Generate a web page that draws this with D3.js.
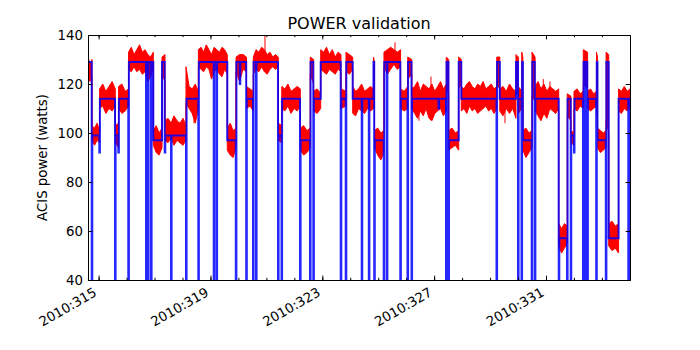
<!DOCTYPE html>
<html>
<head>
<meta charset="utf-8">
<script src="https://cdn.jsdelivr.net/npm/d3@7"></script>
<style>
  body { margin: 0; background: #fff; }
  text { font-family: 'DejaVu Sans', sans-serif; }
</style>
</head>
<body>
<svg></svg>
<script>
// Data: model (blue step) in day-of-year 2010, power in watts
const modelTime = [314.620, 314.752, 314.774, 315.024, 315.046, 315.586, 315.607, 315.704, 315.725, 316.061,
  316.083, 316.694, 316.716, 316.766, 316.787, 316.873, 316.895, 316.956, 317.267, 317.363,
  317.385, 317.589, 317.610, 318.125, 318.146, 318.565, 318.586, 319.116, 319.137, 319.216,
  319.237, 319.602, 319.906, 319.928, 320.046, 320.067, 320.278, 320.300, 320.521, 320.543,
  320.629, 320.650, 321.415, 321.437, 321.541, 321.562, 322.202, 322.224, 322.560, 322.581,
  322.678, 322.699, 322.943, 323.658, 323.679, 323.837, 323.858, 324.087, 324.409, 324.430,
  324.663, 324.684, 324.831, 324.856, 324.877, 325.196, 325.217, 325.307, 325.328, 325.789,
  325.811, 326.047, 326.068, 326.190, 326.211, 327.156, 327.177, 327.424, 327.445, 327.510,
  327.531, 327.878, 327.971, 329.230, 329.251, 329.348, 329.927, 329.999, 330.020, 330.124,
  330.146, 330.174, 330.489, 330.510, 330.600, 330.621, 331.455, 331.476, 331.751, 331.773,
  331.884, 331.905, 332.002, 332.020, 332.324, 332.345, 332.406, 332.427, 332.477, 332.499,
  332.796, 332.817, 332.842, 333.139, 333.161, 333.243, 333.597, 333.944, 333.969, 334.005]
const modelPower = [129, 0, 99, 92, 114, 0, 99, 92, 114, 0,
  129, 0, 129, 0, 129, 0, 129, 97, 129, 92,
  99, 0, 99, 0, 114, 0, 129, 0, 129, 0,
  129, 97, 0, 129, 120, 129, 0, 114, 0, 129,
  0, 129, 0, 99, 0, 114, 0, 97, 0, 129,
  0, 114, 129, 0, 114, 0, 129, 114, 0, 114,
  0, 114, 129, 0, 97, 0, 129, 0, 129, 0,
  114, 0, 129, 0, 114, 110, 114, 0, 129, 0,
  97, 129, 114, 0, 129, 114, 129, 0, 114, 0,
  129, 97, 0, 129, 0, 114, 0, 57, 0, 114,
  0, 99, 92, 114, 0, 129, 0, 129, 0, 114,
  0, 129, 97, 0, 129, 57, 114, 0, 114, 114]

// Measured power (red): segment breaks and high / low envelope samples per segment
const redBreaks = [314.620, 314.763, 315.035, 315.596, 315.714, 316.070, 316.956, 317.267, 317.374, 318.125,
  318.568, 319.602, 319.915, 320.289, 320.532, 321.426, 321.550, 322.213, 322.570, 322.688,
  322.943, 323.668, 323.847, 324.087, 324.831, 324.866, 325.206, 325.800, 326.057, 326.200,
  327.434, 327.520, 327.878, 327.971, 329.240, 329.348, 329.927, 330.010, 330.135, 330.174,
  330.500, 330.610, 331.455, 331.762, 331.894, 332.002, 332.335, 332.488, 332.806, 332.842,
  333.150, 333.243, 333.597, 334.005]
const redHi = [
  [131, 128, 130], [103, 102, 104, 101], [118, 120, 117, 119, 121, 118], [103, 104],
  [119, 120, 117, 118], [133, 135, 132, 134, 136, 133, 134, 132, 131, 133], [101, 103, 100, 102],
  [131, 132], [105, 106, 104, 107, 105, 104, 106, 103], [127, 119, 118, 120, 117],
  [134, 135, 133, 136, 134, 132, 135, 134, 133, 135, 134, 132], [102, 104, 101, 102],
  [131, 132, 132, 131], [119, 118, 117], [131, 134, 133, 135, 134, 132, 133, 131, 132, 131],
  [104, 103], [119, 118, 120, 117, 118, 119, 118], [102, 103, 101, 102], [131, 130],
  [117, 118, 116], [134, 133, 135, 132, 134, 131, 133, 132], [118, 117], [133, 132, 131],
  [119, 117, 118, 120, 117, 118, 119, 118], [131, 129], [101, 102, 100, 101],
  [133, 134, 135, 134, 133, 134], [118, 117, 119], [131, 130],
  [118, 119, 121, 117, 120, 119, 118, 120, 117, 119, 121, 118, 120], [131, 130],
  [101, 102, 100, 101], [131, 130],
  [119, 118, 120, 121, 119, 118, 120, 119, 121, 118, 119, 120, 118, 119], [131, 131],
  [118, 119, 117, 120, 118, 117], [132, 131], [119, 117], [133, 131], [101, 102, 100, 101],
  [133, 131], [119, 121, 118, 120, 117, 119, 118, 117, 118], [63, 61, 63, 62], [116, 115],
  [101, 100], [117, 118, 116, 117], [134, 133], [117, 118, 116, 117], [133, 131],
  [102, 101, 100, 101], [133, 132], [63, 64, 62, 63], [118, 117, 119, 117, 118]]
const redLo = [
  [124, 121, 123], [97, 95, 97, 96], [110, 111, 108, 110, 109, 111], [96, 94],
  [110, 108, 109, 111], [126, 125, 127, 125, 126, 124, 125, 121, 123, 126], [95, 92, 91, 94],
  [124, 121], [97, 96, 98, 95, 97, 96, 95, 97], [112, 110, 108, 104, 110],
  [127, 126, 125, 127, 126, 122, 125, 126, 124, 123, 126, 124], [93, 91, 90, 94],
  [125, 121, 126, 125], [110, 111, 109], [124, 126, 125, 127, 125, 124, 126, 127, 126, 127],
  [97, 96], [110, 109, 111, 108, 110, 109, 111], [93, 91, 92, 94], [124, 120],
  [109, 108, 110], [126, 125, 124, 126, 125, 124, 126, 125], [110, 111], [125, 124, 126],
  [108, 107, 110, 109, 108, 110, 109, 110], [113, 111], [94, 91, 89, 92],
  [127, 124, 126, 128, 126, 127], [110, 109, 110], [122, 124],
  [110, 108, 106, 109, 107, 110, 106, 105, 108, 109, 110, 107, 109], [118, 116],
  [93, 94, 95, 93], [118, 120],
  [109, 110, 108, 111, 109, 110, 108, 109, 110, 111, 109, 110, 108, 110], [120, 118],
  [109, 107, 110, 108, 110, 106], [115, 117], [108, 110], [114, 112], [93, 90, 92, 94],
  [115, 113], [109, 107, 105, 108, 106, 110, 109, 108, 110], [54, 51, 53, 55], [107, 105],
  [96, 95], [110, 109, 111, 110], [120, 118], [110, 109, 110, 111], [110, 105],
  [94, 92, 93, 94], [105, 100], [54, 52, 53, 51], [109, 108, 110, 109, 110]]

// Single-sample glitches in the measured power
const spikeTime = [318.411, 320.950, 325.600, 326.458, 326.887, 329.534, 330.904, 331.143]
const spikeBase = [112, 128, 130, 110, 116, 110, 116, 116]
const spikeTop = [104, 140, 137, 105, 123, 104, 122, 121]

const yTicks = [40, 60, 80, 100, 120, 140]
const xMajor = [315, 319, 323, 327, 331]
const xMinor = d3.range(315, 334)

// Layout
const width = 700
const height = 350
const plot = { left: 88, right: 630, top: 35, bottom: 280 }

const svg = d3.select('svg').attr('width', width).attr('height', height)
svg.append('rect').attr('width', width).attr('height', height).attr('fill', '#fff')

const x = d3.scaleLinear().domain([314.62, 334.005]).range([plot.left, plot.right])
const y = d3.scaleLinear().domain([40, 140]).range([plot.bottom, plot.top])

svg
  .append('defs')
  .append('clipPath')
  .attr('id', 'plot-clip')
  .append('rect')
  .attr('x', plot.left)
  .attr('y', plot.top)
  .attr('width', plot.right - plot.left)
  .attr('height', plot.bottom - plot.top)

const layer = svg.append('g').attr('clip-path', 'url(#plot-clip)')

// Red measured power as a noisy band
const redPoints = []
redHi.forEach((hi, i) => {
  const t0 = redBreaks[i]
  const t1 = redBreaks[i + 1]
  const n = hi.length
  hi.forEach((h, k) => {
    redPoints.push({ t: t0 + ((t1 - t0) * k) / (n - 1), hi: h, lo: redLo[i][k] })
  })
})

layer
  .append('path')
  .datum(redPoints)
  .attr('fill', '#ff0000')
  .attr('stroke', '#ff0000')
  .attr('stroke-width', 1)
  .attr(
    'd',
    d3
      .area()
      .x((d) => x(d.t))
      .y0((d) => y(d.lo))
      .y1((d) => y(d.hi))
  )

layer
  .selectAll('.spike')
  .data(spikeTime)
  .enter()
  .append('line')
  .attr('class', 'spike')
  .attr('x1', (d) => x(d))
  .attr('x2', (d) => x(d))
  .attr('y1', (d, i) => y(spikeBase[i]))
  .attr('y2', (d, i) => y(spikeTop[i]))
  .attr('stroke', '#ff0000')
  .attr('stroke-width', 1)

// Blue model as a step line
const modelPoints = modelTime.map((t, i) => [t, modelPower[i]])
layer
  .append('path')
  .datum(modelPoints)
  .attr('fill', 'none')
  .attr('stroke', '#0000ff')
  .attr('stroke-opacity', 0.85)
  .attr('stroke-width', 2)
  .attr(
    'd',
    d3
      .line()
      .x((d) => x(d[0]))
      .y((d) => y(d[1]))
      .curve(d3.curveStepAfter)
  )

// Axes, ticks pointing inward on all four sides
const styleAxis = (g) => {
  g.attr('font-family', null).attr('font-size', null)
  g.select('.domain').remove()
  g.selectAll('.tick line').attr('stroke', '#000')
  g.selectAll('text').attr('fill', '#000').style('font-size', '13.3px')
}

svg
  .append('g')
  .attr('transform', `translate(${plot.left},0)`)
  .call(d3.axisLeft(y).tickValues(yTicks).tickSize(-4.4).tickPadding(5))
  .call(styleAxis)

svg
  .append('g')
  .attr('transform', `translate(${plot.right},0)`)
  .call(d3.axisRight(y).tickValues(yTicks).tickSize(-4.4).tickFormat(''))
  .call(styleAxis)

svg
  .append('g')
  .attr('transform', `translate(0,${plot.bottom})`)
  .call(d3.axisBottom(x).tickValues(xMinor).tickSize(-2.2).tickFormat(''))
  .call(styleAxis)

svg
  .append('g')
  .attr('transform', `translate(0,${plot.top})`)
  .call(d3.axisTop(x).tickValues(xMinor).tickSize(-2.2).tickFormat(''))
  .call(styleAxis)

svg
  .append('g')
  .attr('transform', `translate(0,${plot.top})`)
  .call(d3.axisTop(x).tickValues(xMajor).tickSize(-4.4).tickFormat(''))
  .call(styleAxis)

svg
  .append('g')
  .attr('transform', `translate(0,${plot.bottom})`)
  .call(
    d3
      .axisBottom(x)
      .tickValues(xMajor)
      .tickSize(-4.4)
      .tickFormat((d) => '2010:' + d)
  )
  .call(styleAxis)
  .selectAll('text')
  .attr('x', 0)
  .attr('y', 0)
  .attr('dy', null)
  .attr('text-anchor', 'end')
  .attr('transform', 'translate(-1.5,15) rotate(-30)')

svg
  .append('rect')
  .attr('x', plot.left)
  .attr('y', plot.top)
  .attr('width', plot.right - plot.left)
  .attr('height', plot.bottom - plot.top)
  .attr('fill', 'none')
  .attr('stroke', '#000')
  .attr('stroke-width', 1)
  .attr('shape-rendering', 'crispEdges')

// Labels
svg
  .append('text')
  .attr('x', (plot.left + plot.right) / 2)
  .attr('y', 29)
  .attr('text-anchor', 'middle')
  .style('font-size', '16px')
  .text('POWER validation')

svg
  .append('text')
  .attr('transform', `translate(47,${(plot.top + plot.bottom) / 2}) rotate(-90)`)
  .attr('text-anchor', 'middle')
  .style('font-size', '13.3px')
  .text('ACIS power (watts)')
</script>
</body>
</html>
